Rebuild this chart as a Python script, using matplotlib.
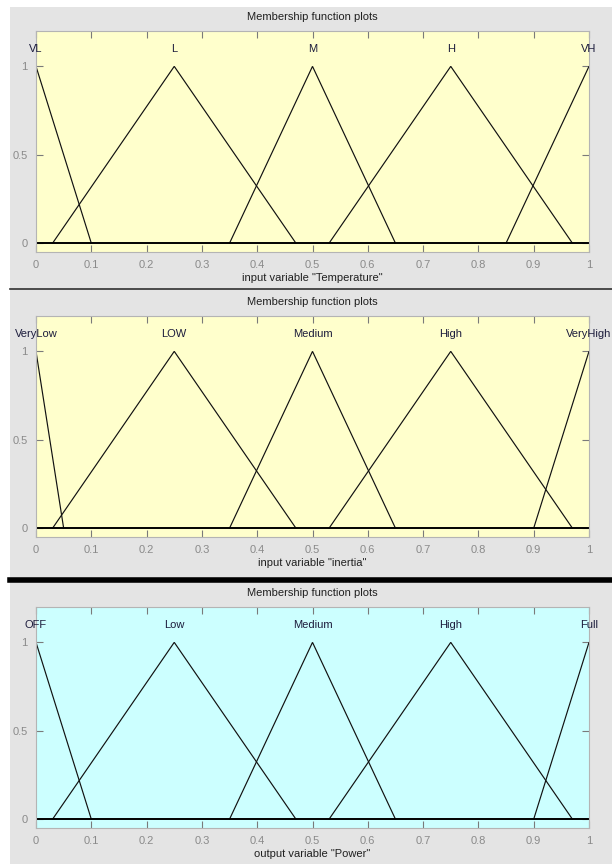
"""Three stacked membership-function panels for a fuzzy heater controller."""

import matplotlib.pyplot as plt
from matplotlib.patches import Rectangle
from matplotlib.lines import Line2D

# triangular membership functions: [left foot, peak, right foot]
temp_names = ["VL", "L", "M", "H", "VH"]
temp_params = [[-0.1, 0.0, 0.1], [0.03, 0.25, 0.47], [0.35, 0.5, 0.65],
               [0.53, 0.75, 0.97], [0.85, 1.0, 1.15]]

inertia_names = ["VeryLow", "LOW", "Medium", "High", "VeryHigh"]
inertia_params = [[-0.05, 0.0, 0.05], [0.03, 0.25, 0.47], [0.35, 0.5, 0.65],
                  [0.53, 0.75, 0.97], [0.9, 1.0, 1.1]]

power_names = ["OFF", "Low", "Medium", "High", "Full"]
power_params = [[-0.1, 0.0, 0.1], [0.03, 0.25, 0.47], [0.35, 0.5, 0.65],
                [0.53, 0.75, 0.97], [0.9, 1.0, 1.1]]

x_ticks = [0, 0.1, 0.2, 0.3, 0.4, 0.5, 0.6, 0.7, 0.8, 0.9, 1]
x_ticklabels = ["0", "0.1", "0.2", "0.3", "0.4", "0.5", "0.6", "0.7", "0.8", "0.9", "1"]
y_ticks = [0, 0.5, 1]
y_ticklabels = ["0", "0.5", "1"]

W, H = 612, 864
FS = 8
plt.rcParams["font.family"] = ["Liberation Sans", "DejaVu Sans"]

fig = plt.figure(figsize=(W / 100, H / 100), dpi=100, facecolor="white")
fig.patches.append(Rectangle((10 / W, 0), 1 - 10 / W, 1 - 7 / H,
                             transform=fig.transFigure, facecolor="#e4e4e4",
                             edgecolor="none", zorder=-10))


def fy(py):
    return 1 - py / H


panels = [
    # (names, params, bg colour, axes top px, axes bottom px, title px, xlabel)
    (temp_names, temp_params, "#ffffcc", 31, 252, 17, 'input variable "Temperature"'),
    (inertia_names, inertia_params, "#ffffcc", 316, 537, 302, 'input variable "inertia"'),
    (power_names, power_params, "#ccffff", 607, 828, 593, 'output variable "Power"'),
]

left_px, right_px = 36, 589
for names, params, bg, top, bottom, title_y, xlabel in panels:
    ax = fig.add_axes([left_px / W, fy(bottom), (right_px - left_px) / W,
                       (bottom - top) / H])
    ax.set_facecolor(bg)
    ax.set_xlim(0, 1)
    ax.set_ylim(-0.05, 1.2)
    for name, (a, b, c) in zip(names, params):
        ax.plot([a, b, c], [0, 1, 0], color="#111111", lw=0.85, solid_joinstyle="miter")
        ax.text(b, 1.1, name, ha="center", va="center", fontsize=FS,
                color="#1c1c3c", clip_on=False)
    ax.axhline(0, color="black", lw=1.4)
    ax.set_xticks(x_ticks)
    ax.set_xticklabels(x_ticklabels)
    ax.set_yticks(y_ticks)
    ax.set_yticklabels(y_ticklabels)
    ax.tick_params(direction="in", length=5, width=0.8, color="#7a7a7a",
                   labelcolor="#8a8a8a", labelsize=FS, top=True, right=True,
                   pad=6)
    for sp in ax.spines.values():
        sp.set_color("#b4b4b4")
        sp.set_linewidth(0.8)
    fig.text(0.5 * (left_px + right_px) / W, fy(title_y), "Membership function plots",
             ha="center", va="center", fontsize=FS, color="#202020")
    fig.text(0.5 * (left_px + right_px) / W, fy(bottom + 26), xlabel,
             ha="center", va="center", fontsize=FS, color="#202020")

# panel separators
fig.add_artist(Line2D([10 / W, 1], [fy(289), fy(289)], color="#303030", lw=1.2,
                      transform=fig.transFigure))
fig.add_artist(Line2D([10 / W, 1], [fy(579.5), fy(579.5)], color="black", lw=4,
                      transform=fig.transFigure))

fig.savefig("out.png", dpi=100)
